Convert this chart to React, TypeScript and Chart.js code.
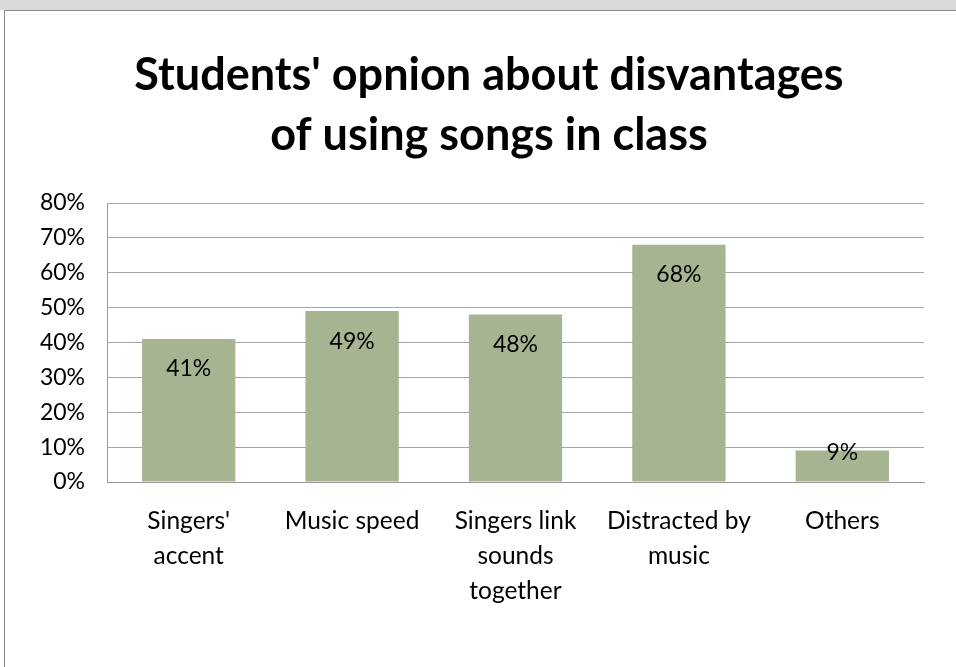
import React, { useEffect, useRef } from "react";
import { Chart, registerables } from "chart.js";

Chart.register(...registerables);

const titleLines = ["Students' opnion about disvantages", "of using songs in class"];
const categories = [
  ["Singers'", "accent"],
  ["Music speed"],
  ["Singers link", "sounds", "together"],
  ["Distracted by", "music"],
  ["Others"],
];
const values = [41, 49, 48, 68, 9];
const yMin = 0;
const yMax = 80;
const yStep = 10;

const FONT = "Lato, 'Open Sans', sans-serif";

const dataLabelPlugin = {
  id: "dataLabels",
  afterDatasetsDraw(chart: any) {
    const ctx = chart.ctx;
    const meta = chart.getDatasetMeta(0);
    ctx.save();
    ctx.font = `23px ${FONT}`;
    ctx.fillStyle = "#000";
    ctx.textAlign = "center";
    ctx.textBaseline = "middle";
    meta.data.forEach((bar: any, i: number) => {
      const h = bar.base - bar.y;
      const off = h > 50 ? 30 : 2;
      ctx.fillText(values[i] + "%", bar.x, bar.y + off);
    });
    ctx.restore();
  },
};

const titlePlugin = {
  id: "customTitle",
  afterDraw(chart: any) {
    const ctx = chart.ctx;
    ctx.save();
    ctx.font = `bold 45px ${FONT}`;
    ctx.fillStyle = "#000";
    ctx.textAlign = "center";
    ctx.textBaseline = "alphabetic";
    const cx = 489;
    titleLines.forEach((line, i) => {
      ctx.fillText(line, cx, 90 + i * 60);
    });
    ctx.restore();
  },
};

export default function App() {
  const ref = useRef<HTMLCanvasElement | null>(null);
  useEffect(() => {
    if (!ref.current) return;
    const chart = new Chart(ref.current, {
      type: "bar",
      data: {
        labels: categories,
        datasets: [
          {
            data: values,
            backgroundColor: "#a6b492",
            borderWidth: 0,
            categoryPercentage: 1,
            barPercentage: 0.571,
          },
        ],
      },
      options: {
        animation: false,
        responsive: true,
        maintainAspectRatio: false,
        layout: { padding: { top: 203, right: 32, bottom: 0, left: 0 } },
        plugins: {
          legend: { display: false },
          tooltip: { enabled: false },
          title: { display: false },
        },
        scales: {
          x: {
            grid: { display: false, drawTicks: false },
            border: { display: true, color: "#999999", width: 1 },
            ticks: {
              color: "#000",
              font: { family: FONT, size: 24.5, lineHeight: 1.43 },
              padding: 22,
              maxRotation: 0,
              autoSkip: false,
            },
            afterFit(scale: any) {
              scale.height = 185;
            },
          },
          y: {
            min: yMin,
            max: yMax,
            grid: { color: "#a6a6a6", drawTicks: false, lineWidth: 1 },
            border: { display: true, color: "#999999", width: 1 },
            ticks: {
              stepSize: yStep,
              color: "#000",
              font: { family: FONT, size: 23 },
              padding: 22,
              callback: (v: any) => v + "%",
            },
            afterFit(scale: any) {
              scale.width = 107;
            },
          },
        },
      },
      plugins: [dataLabelPlugin, titlePlugin],
    });
    return () => chart.destroy();
  }, []);

  return (
    <div
      style={{
        position: "fixed",
        left: 0,
        top: 0,
        width: 956,
        height: 667,
        background: "#ffffff",
        overflow: "hidden",
      }}
    >
      <div style={{ position: "absolute", left: 0, top: 0, width: 956, height: 10, background: "#d9d9d9" }} />
      <div
        style={{
          position: "absolute",
          left: 4,
          top: 10,
          width: 970,
          height: 700,
          borderLeft: "1px solid #8c8c8c",
          borderTop: "1px solid #8c8c8c",
          background: "#fff",
        }}
      />
      <div style={{ position: "absolute", left: 0, top: 0, width: 956, height: 667 }}>
        <canvas ref={ref} />
      </div>
    </div>
  );
}
